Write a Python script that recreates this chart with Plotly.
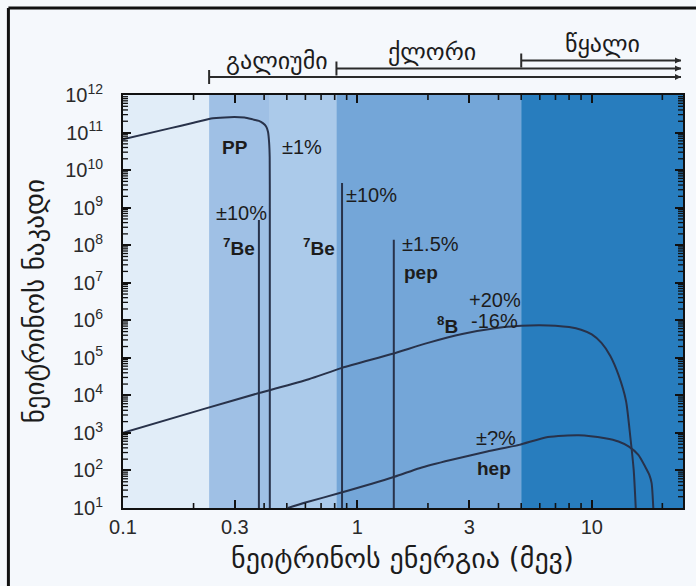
import math
import plotly.graph_objects as go

# ---------------- data ----------------
pp_energy = [0.1, 0.158, 0.2, 0.242, 0.285, 0.33, 0.358, 0.38, 0.395, 0.408, 0.4155, 0.42, 0.4225, 0.423, 0.423]
pp_flux = [6.6e10, 1.29e11, 1.82e11, 2.4e11, 2.57e11, 2.51e11, 2.24e11, 2.04e11, 1.78e11, 1.45e11, 1.05e11, 5.6e10, 2.2e10, 1.0e9, 1.0e1]

b8_energy = [0.1, 0.22, 0.38, 0.62, 0.86, 1.4, 2.0, 2.8, 4.0, 5.0, 6.0, 7.0, 8.0, 9.0, 10.0, 11.0, 12.0, 13.0, 14.0, 14.6, 15.1, 15.4]
b8_flux = [1.0e3, 4.3e3, 1.15e4, 2.7e4, 5.4e4, 1.26e5, 2.5e5, 4.3e5, 6.3e5, 7.2e5, 7.4e5, 7.2e5, 6.6e5, 5.6e5, 4.2e5, 2.5e5, 1.12e5, 3.5e4, 7.1e3, 7.9e2, 1.0e2, 1.0e1]

hep_energy = [0.505, 0.6, 0.84, 1.44, 1.84, 2.5, 3.58, 4.9, 6.5, 8.8, 11.4, 13.0, 14.4, 15.8, 16.9, 17.6, 18.0, 18.3]
hep_flux = [1.0e1, 1.4e1, 2.5e1, 6.8e1, 1.15e2, 1.9e2, 3.2e2, 4.8e2, 7.8e2, 8.7e2, 7.2e2, 5.9e2, 4.3e2, 2.6e2, 1.26e2, 7.6e1, 4.6e1, 1.0e1]

line_names = ["7Be (0.38)", "7Be (0.86)", "pep"]
line_energy = [0.38, 0.86, 1.43]
line_flux = [4.7e8, 4.5e9, 1.4e8]

detectors = ["გალიუმი", "ქლორი", "წყალი"]
thresholds = [0.233, 0.814, 5.0]

band_edges = [0.1, 0.233, 0.423, 0.814, 5.0, 24.5]
band_colors = ["#e1edf8", "#9fc0e5", "#abcaea", "#74a6d8", "#287dbe"]

y_exponents = list(range(1, 13))
x_major = [0.1, 0.3, 1, 3, 10]
x_major_text = ["0.1", "0.3", "1", "3", "10"]
x_minor = [0.2, 0.4, 0.5, 0.6, 0.7, 0.8, 0.9, 2, 4, 5, 6, 7, 8, 9, 20]
y_minor_digits = [2, 3, 4, 5, 6, 7, 8, 9]

x_title = "ნეიტრინოს ენერგია (მევ)"
y_title = "ნეიტრინოს ნაკადი"

# ---------------- geometry helpers ----------------
W, H = 696, 586
L, R, T, B = 123, 11, 95, 78
PW, PH = W - L - R, H - T - B
X_MIN, X_MAX = 0.1, 24.5


def px(xpix):
    return (xpix - L) / PW


def py(ypix):
    return (H - B - ypix) / PH


def ex(xpix):
    """pixel -> energy value on the log x axis"""
    return 10 ** (math.log10(X_MIN) + (xpix - L) / PW * (math.log10(X_MAX) - math.log10(X_MIN)))


LINE_COLOR = "#28324a"
TXT = "#1c1c1c"
GEO_FONT = "DejaVu Sans"
LAT_FONT = "Liberation Sans"

fig = go.Figure()

for e, f in [(pp_energy, pp_flux), (b8_energy, b8_flux), (hep_energy, hep_flux)]:
    fig.add_trace(go.Scatter(x=e, y=f, mode="lines",
                             line=dict(color=LINE_COLOR, width=2, shape="spline", smoothing=0.6),
                             showlegend=False, hoverinfo="skip"))

for name, e, f in zip(line_names, line_energy, line_flux):
    fig.add_trace(go.Scatter(x=[e, e], y=[10, f], mode="lines", name=name,
                             line=dict(color=LINE_COLOR, width=2),
                             showlegend=False, hoverinfo="skip"))

shapes = []
# coloured bands
for i, c in enumerate(band_colors):
    shapes.append(dict(type="rect", xref="x", yref="paper",
                       x0=band_edges[i], x1=band_edges[i + 1],
                       y0=0, y1=1, fillcolor=c, line=dict(width=0), layer="below"))

# minor ticks (inside, on all four sides)
mt = 5
for v in x_minor:
    for y0, y1 in [(0, mt / PH), (1, 1 - mt / PH)]:
        shapes.append(dict(type="line", xref="x", yref="paper", x0=v, x1=v, y0=y0, y1=y1,
                           layer="above", line=dict(color="#111111", width=1.6)))
for k in y_exponents[:-1]:
    for d in y_minor_digits:
        v = d * 10 ** k
        for x0, x1 in [(0, mt / PW), (1, 1 - mt / PW)]:
            shapes.append(dict(type="line", xref="paper", yref="y", x0=x0, x1=x1,
                               y0=v, y1=v,
                               layer="above", line=dict(color="#111111", width=1.3)))

# detector brackets above the plot
bracket_y = [77, 68.5, 60.5]
label_pos = [(278, 61), (433, 52), (604, 44)]
arrow_end = ex(683)
annotations = []
for det, thr, by, (lx, ly) in zip(detectors, thresholds, bracket_y, label_pos):
    shapes.append(dict(type="line", xref="x", yref="paper", x0=thr, x1=arrow_end,
                       y0=py(by), y1=py(by), line=dict(color="#2b2b2b", width=2)))
    shapes.append(dict(type="line", xref="x", yref="paper", x0=thr, x1=thr,
                       y0=py(by - 7), y1=py(by + 7), line=dict(color="#2b2b2b", width=2)))
    annotations.append(dict(x=math.log10(arrow_end), y=py(by), xref="x", yref="paper", text="",
                            showarrow=True, ax=-6, ay=0, arrowhead=2, arrowsize=0.6,
                            arrowwidth=2, arrowcolor="#2b2b2b"))
    annotations.append(dict(x=px(lx), y=py(ly), xref="paper", yref="paper", text=det,
                            xanchor="center", yanchor="middle",
                            showarrow=False, font=dict(family=GEO_FONT, size=24, color=TXT)))

# outer frame (left and top edges)
shapes.append(dict(type="line", xref="paper", yref="paper", x0=px(8), x1=px(8),
                   y0=py(8), y1=py(590), line=dict(color="#111", width=3)))
shapes.append(dict(type="line", xref="paper", yref="paper", x0=px(8), x1=px(700),
                   y0=py(8), y1=py(8), line=dict(color="#111", width=3)))

# in-plot labels
labels = [
    ("<b>PP</b>", 235, 147, 19),
    ("±1%", 303, 147, 20),
    ("±10%", 242, 213, 20),
    ("<b><sup>7</sup>Be</b>", 239, 247, 19),
    ("<b><sup>7</sup>Be</b>", 320, 247, 19),
    ("±10%", 372, 195, 20),
    ("±1.5%", 432, 244, 20),
    ("<b>pep</b>", 422, 272, 19),
    ("+20%", 496, 300, 20),
    ("<b><sup>8</sup>B</b>", 449, 325, 19),
    ("-16%", 496, 321, 20),
    ("±?%", 497, 438, 20),
    ("<b>hep</b>", 495, 468, 19),
]
for t, lx, ly, s in labels:
    annotations.append(dict(x=px(lx), y=py(ly), xref="paper", yref="paper", text=t,
                            xanchor="center", yanchor="middle",
                            showarrow=False, font=dict(family=LAT_FONT, size=s, color=TXT)))

# axis titles
annotations.append(dict(x=px(403), y=py(558), xref="paper", yref="paper", text=x_title,
                        xanchor="center", yanchor="middle",
                        showarrow=False, font=dict(family=GEO_FONT, size=28, color=TXT)))
annotations.append(dict(x=px(34), y=py(301), xref="paper", yref="paper", text=y_title,
                        xanchor="center", yanchor="middle",
                        textangle=-90, showarrow=False,
                        font=dict(family=GEO_FONT, size=27, color=TXT)))

y_major = [10 ** k for k in y_exponents]
y_text = ["10<sup>%d</sup>" % k for k in y_exponents]

axis_common = dict(showgrid=False, zeroline=False, showline=True, linecolor="#111",
                   linewidth=2, mirror="allticks", ticks="inside", ticklen=8,
                   tickwidth=2.2, tickcolor="#111",
                   tickfont=dict(family=LAT_FONT, size=20, color="#2a2a2a"))

fig.update_layout(
    xaxis=dict(type="log", range=[math.log10(X_MIN), math.log10(X_MAX)],
               tickmode="array", tickvals=x_major, ticktext=x_major_text,
               ticklabelstandoff=0, **axis_common),
    yaxis=dict(type="log", range=[1, 12], tickmode="array", tickvals=y_major,
               ticktext=y_text, ticklabelstandoff=14, **axis_common),
    width=W, height=H, margin=dict(l=L, r=R, t=T, b=B),
    paper_bgcolor="#f5f8fc", plot_bgcolor="#e1edf8",
    shapes=shapes, annotations=annotations, showlegend=False)

fig.write_html("out.html")
